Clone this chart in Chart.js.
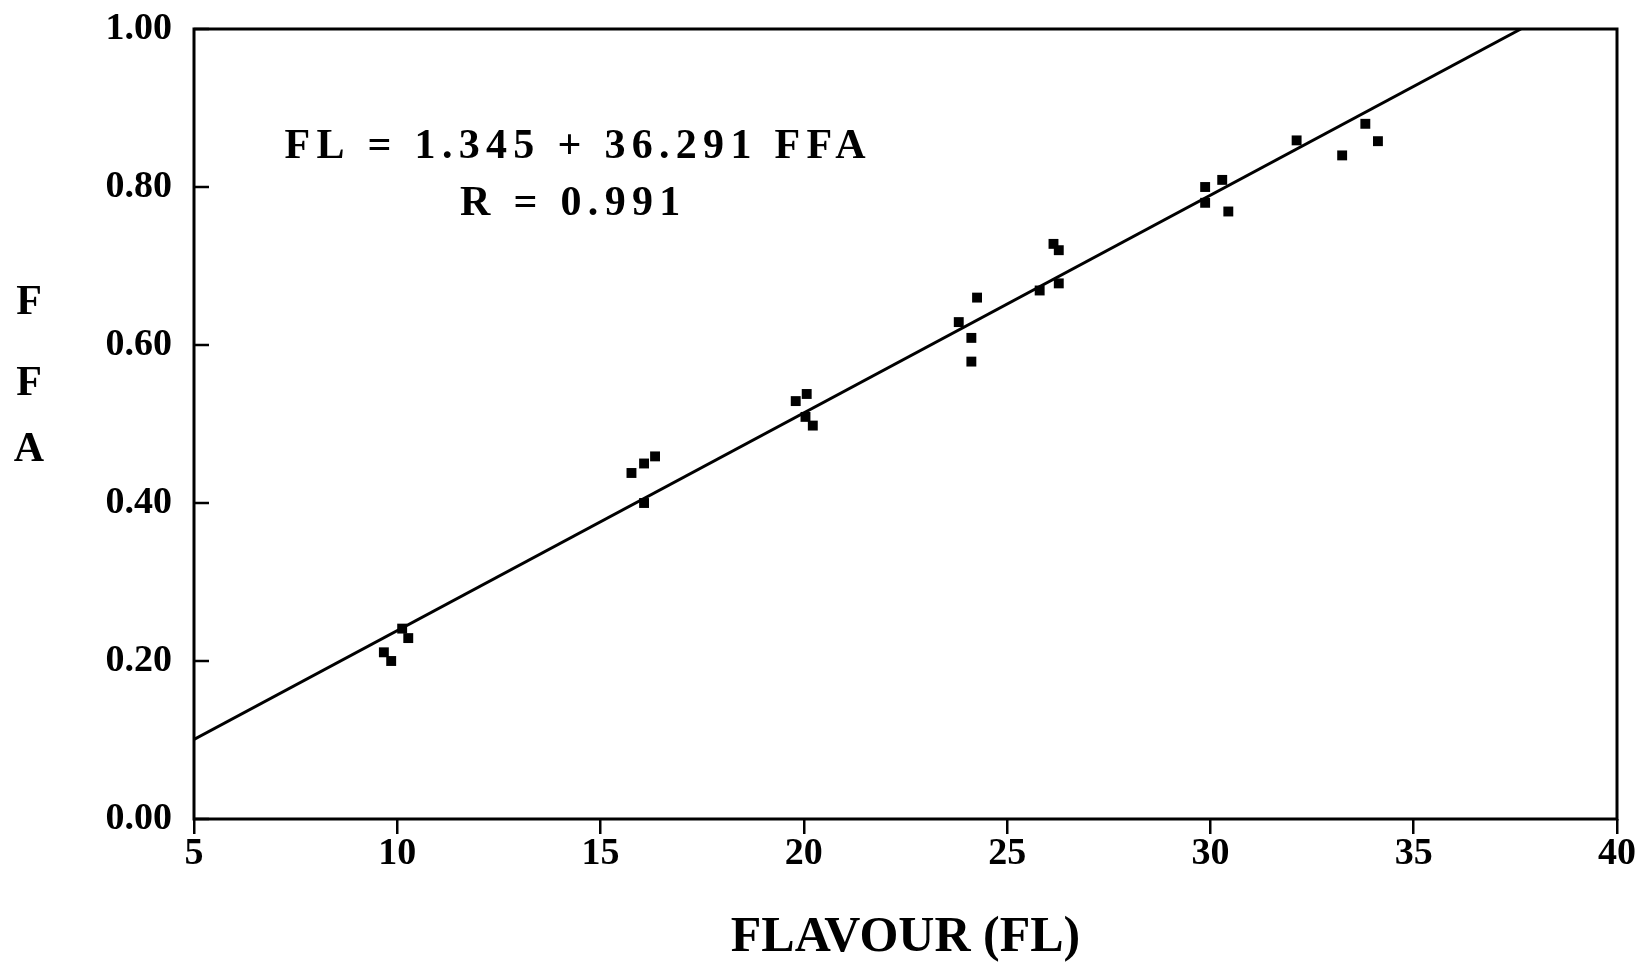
<!DOCTYPE html>
<html>
<head>
<meta charset="utf-8">
<title>FFA vs Flavour</title>
<script src="https://cdn.jsdelivr.net/npm/chart.js@4.4.1/dist/chart.umd.min.js"></script>
<style>
  html, body { margin: 0; padding: 0; background: #ffffff; }
  #wrap { width: 1642px; height: 962px; }
</style>
</head>
<body>
<div id="wrap"><canvas id="chart" width="1642" height="962"></canvas></div>
<script>
// Flavour score (FL) and free fatty acid level (FFA) of each sample
const flavour = [
  9.67, 9.85, 10.12, 10.27,
  15.76, 16.07, 16.34, 16.07,
  19.80, 20.07, 20.04, 20.22,
  23.81, 24.12, 24.12, 24.26,
  25.80, 26.14, 26.27, 26.27,
  29.87, 29.87, 30.29, 30.44,
  32.12, 33.24, 33.81, 34.12
];
const ffa = [
  0.211, 0.200, 0.241, 0.229,
  0.438, 0.450, 0.459, 0.400,
  0.529, 0.538, 0.509, 0.498,
  0.629, 0.609, 0.579, 0.660,
  0.669, 0.728, 0.720, 0.678,
  0.800, 0.780, 0.809, 0.769,
  0.859, 0.840, 0.880, 0.858
];

// Axis ticks
const xTicks = [5, 10, 15, 20, 25, 30, 35, 40];
const yTicks = [0.0, 0.2, 0.4, 0.6, 0.8, 1.0];

// Fitted regression FL = a + b * FFA
const fitIntercept = 1.345;
const fitSlope = 36.291;
const fitR = 0.991;

// Text
const equationLines = ['FL = 1.345 + 36.291 FFA', 'R = 0.991'];
const xTitle = 'FLAVOUR (FL)';
const yTitleLetters = ['F', 'F', 'A'];

const SERIF = '"Liberation Serif", "DejaVu Serif", serif';

const samplePoints = flavour.map((fl, i) => ({ x: fl, y: ffa[i] }));

// Regression line across the plot: FFA = (FL - a) / b, from FL = 5 up to where FFA reaches 1.00
const fitLine = [
  { x: xTicks[0], y: (xTicks[0] - fitIntercept) / fitSlope },
  { x: fitIntercept + fitSlope * yTicks[yTicks.length - 1], y: yTicks[yTicks.length - 1] }
];

// Frame around the plot, inward y tick marks, equation and stacked y title
const decorations = {
  id: 'decorations',
  afterDraw(chart, args, opts) {
    const { ctx, chartArea: a, scales } = chart;
    ctx.save();
    ctx.strokeStyle = '#000';
    ctx.lineWidth = 3;
    ctx.strokeRect(a.left, a.top, a.right - a.left, a.bottom - a.top);

    // y tick marks pointing into the plot
    ctx.lineWidth = 2.5;
    yTicks.forEach(v => {
      const y = scales.y.getPixelForValue(v);
      ctx.beginPath();
      ctx.moveTo(a.left, y);
      ctx.lineTo(a.left + opts.yTickLength, y);
      ctx.stroke();
    });

    // regression equation
    ctx.fillStyle = '#000';
    ctx.textAlign = 'center';
    ctx.textBaseline = 'middle';
    ctx.font = opts.equationFont;
    ctx.letterSpacing = opts.equationSpacing;
    equationLines.forEach((line, i) => {
      const ex = scales.x.getPixelForValue(opts.equationAt.x[i]);
      const ey = scales.y.getPixelForValue(opts.equationAt.y[i]);
      ctx.fillText(line, ex, ey);
    });

    // vertical y title, one letter per row
    ctx.letterSpacing = '0px';
    ctx.font = opts.yTitleFont;
    yTitleLetters.forEach((ch, i) => {
      ctx.fillText(ch, opts.yTitleX, opts.yTitleRows[i]);
    });
    ctx.restore();
  }
};

new Chart(document.getElementById('chart'), {
  type: 'scatter',
  data: {
    datasets: [
      {
        type: 'line',
        label: 'fit',
        data: fitLine,
        borderColor: '#000',
        borderWidth: 3,
        pointRadius: 0,
        fill: false,
        tension: 0
      },
      {
        label: 'samples',
        data: samplePoints,
        pointStyle: 'rect',
        pointRadius: 7,
        backgroundColor: '#000',
        borderColor: '#000',
        borderWidth: 0
      }
    ]
  },
  options: {
    responsive: false,
    animation: false,
    devicePixelRatio: 1,
    layout: { padding: { left: 0, right: 25, top: 29, bottom: 0 } },
    plugins: {
      legend: { display: false },
      tooltip: { enabled: false },
      decorations: {
        yTickLength: 15,
        equationFont: 'bold 42px ' + SERIF,
        equationSpacing: '6.3px',
        equationAt: { x: [14.45, 14.33], y: [0.851, 0.778] },
        yTitleFont: 'bold 42px ' + SERIF,
        yTitleX: 29,
        yTitleRows: [303, 384, 450]
      }
    },
    scales: {
      x: {
        type: 'linear',
        min: 5,
        max: 40,
        afterBuildTicks(scale) { scale.ticks = xTicks.map(v => ({ value: v })); },
        afterFit(scale) { scale.height = 143; },
        ticks: {
          color: '#000',
          font: { family: SERIF, size: 38, weight: 'bold' },
          padding: -3,
          maxRotation: 0,
          callback: v => String(v)
        },
        grid: {
          display: true,
          drawOnChartArea: false,
          drawTicks: true,
          tickLength: 15,
          color: '#000',
          lineWidth: 2.5
        },
        border: { display: false },
        title: {
          display: true,
          text: xTitle,
          color: '#000',
          font: { family: SERIF, size: 50, weight: 'bold' },
          padding: { top: 0, bottom: -6 }
        }
      },
      y: {
        type: 'linear',
        min: 0,
        max: 1,
        afterBuildTicks(scale) { scale.ticks = yTicks.map(v => ({ value: v })); },
        afterFit(scale) {
          scale.width = 194;
          // the frame is fixed by the layout padding, not by label overhang
          scale.paddingTop = 0;
          scale.paddingBottom = 0;
        },
        ticks: {
          color: '#000',
          font: { family: SERIF, size: 38, weight: 'bold' },
          padding: 22,
          callback: v => v.toFixed(2)
        },
        grid: { display: false, drawTicks: false },
        border: { display: false }
      }
    }
  },
  plugins: [decorations]
});
</script>
</body>
</html>
